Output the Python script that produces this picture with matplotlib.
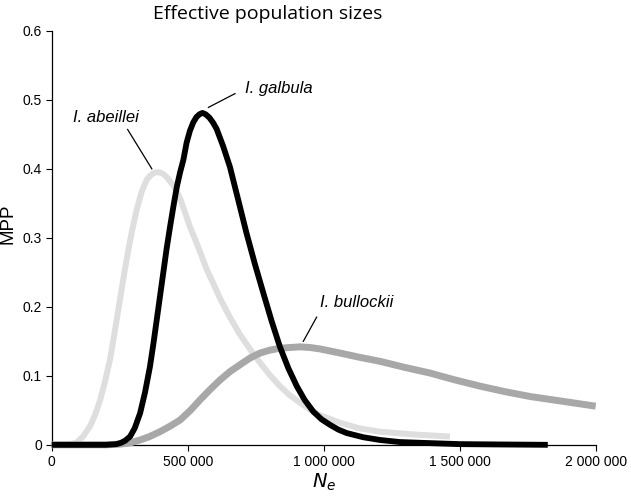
import matplotlib
matplotlib.use("Agg")
import matplotlib.pyplot as plt
from matplotlib.ticker import FuncFormatter

# values
abeillei_x = [0, 60000, 91000, 115000, 141000, 160000, 178000, 196000, 214000, 230000,
              245000, 260000, 275000, 293000, 312000, 330000, 349000, 362000, 375000,
              386000, 396000, 408000, 420000, 433000, 447000, 460000, 472000, 490000,
              508000, 527000, 545000, 570000, 595000, 619000, 655000, 692000, 730000,
              766000, 800000, 839000, 875000, 913000, 950000, 986000, 1060000, 1130000,
              1207000, 1330000, 1464000]
abeillei_y = [0, 0, 0.003, 0.012, 0.027, 0.044, 0.065, 0.092, 0.123, 0.160,
              0.196, 0.233, 0.268, 0.306, 0.340, 0.366, 0.384, 0.390, 0.394,
              0.395, 0.395, 0.393, 0.389, 0.383, 0.376, 0.367, 0.357, 0.337,
              0.316, 0.298, 0.280, 0.254, 0.233, 0.212, 0.185, 0.160, 0.138,
              0.119, 0.102, 0.085, 0.072, 0.061, 0.051, 0.043, 0.032, 0.024,
              0.019, 0.015, 0.012]

galbula_x = [0, 100000, 200000, 238000, 255000, 270000, 288000, 305000, 325000, 343000,
             361000, 374000, 386000, 398000, 410000, 422000, 435000, 448000, 460000,
             472000, 484000, 496000, 508000, 520000, 532000, 543000, 554000, 566000,
             580000, 593000, 606000, 630000, 655000, 685000, 716000, 747000, 778000,
             808000, 839000, 870000, 901000, 930000, 962000, 992000, 1023000, 1054000,
             1085000, 1145000, 1207000, 1280000, 1350000, 1500000, 1650000, 1824000]
galbula_y = [0, 0, 0, 0.001, 0.003, 0.006, 0.012, 0.024, 0.046, 0.076,
             0.113, 0.147, 0.181, 0.215, 0.249, 0.283, 0.316, 0.347, 0.374,
             0.395, 0.413, 0.438, 0.455, 0.467, 0.475, 0.479, 0.481, 0.479,
             0.474, 0.467, 0.458, 0.433, 0.403, 0.356, 0.307, 0.262, 0.220,
             0.180, 0.142, 0.111, 0.085, 0.065, 0.048, 0.037, 0.029, 0.022,
             0.017, 0.011, 0.007, 0.004, 0.003, 0.001, 0.0005, 0]

bullockii_x = [0, 200000, 251000, 290000, 325000, 360000, 398000, 435000, 472000, 510000,
               545000, 582000, 619000, 655000, 692000, 730000, 766000, 800000, 839000,
               875000, 913000, 950000, 986000, 1023000, 1060000, 1130000, 1207000, 1300000,
               1391000, 1483000, 1575000, 1667000, 1759000, 1880000, 2000000]
bullockii_y = [0, 0, 0.001, 0.003, 0.007, 0.012, 0.019, 0.027, 0.036, 0.050,
               0.065, 0.080, 0.094, 0.106, 0.116, 0.126, 0.133, 0.137, 0.140,
               0.141, 0.142, 0.141, 0.139, 0.136, 0.133, 0.127, 0.121, 0.112,
               0.104, 0.094, 0.085, 0.077, 0.070, 0.063, 0.056]

x_ticks = [0, 500000, 1000000, 1500000, 2000000]
y_ticks = [0, 0.1, 0.2, 0.3, 0.4, 0.5, 0.6]

# label text, text anchor and leader line (data coords)
labels = ["I. abeillei", "I. galbula", "I. bullockii"]
label_pos = [(78000, 0.474), (711000, 0.517), (986000, 0.206)]
leader_x = [[279000, 368000], [576000, 674000], [974000, 925000]]
leader_y = [[0.457, 0.400], [0.489, 0.509], [0.185, 0.150]]

plt.rcParams['font.family'] = ['Liberation Sans', 'DejaVu Sans']

fig = plt.figure(figsize=(6.31, 4.97), dpi=100)
ax = fig.add_axes([0.082, 0.105, 0.862, 0.833])

style = dict(clip_on=False, solid_joinstyle='round', solid_capstyle='butt')
ax.plot(abeillei_x, abeillei_y, color='#dedede', lw=4.3, zorder=2, **style)
ax.plot(bullockii_x, bullockii_y, color='#a8a8a8', lw=5.0, zorder=3, **style)
ax.plot(galbula_x, galbula_y, color='black', lw=4.2, zorder=4, **style)

for txt, (tx, ty), lx, ly in zip(labels, label_pos, leader_x, leader_y):
    ax.text(tx, ty, txt, style='italic', fontsize=12, ha='left', va='center')
    ax.plot(lx, ly, color='black', lw=0.9, zorder=5)

ax.set_xlim(0, 2000000)
ax.set_ylim(0, 0.6)
ax.set_xticks(x_ticks)
ax.set_yticks(y_ticks)
ax.xaxis.set_major_formatter(FuncFormatter(lambda v, p: f"{int(v):,}".replace(",", " ")))
ax.yaxis.set_major_formatter(FuncFormatter(lambda v, p: "0" if v == 0 else f"{v:.1f}"))
ax.tick_params(direction='out', length=4, width=0.8, labelsize=10, pad=3)

for s in ['top', 'right']:
    ax.spines[s].set_visible(False)
for s in ['left', 'bottom']:
    ax.spines[s].set_linewidth(0.9)

ax.set_xlabel("$N_e$", fontsize=14, labelpad=2)
ax.set_ylabel("MPP", fontsize=13.5)
ax.yaxis.set_label_coords(-0.064, 0.535)
fig.text(0.425, 0.972, "Effective population sizes", family='Open Sans',
         fontsize=14, ha='center', va='center')

fig.savefig("out.png", dpi=100)
